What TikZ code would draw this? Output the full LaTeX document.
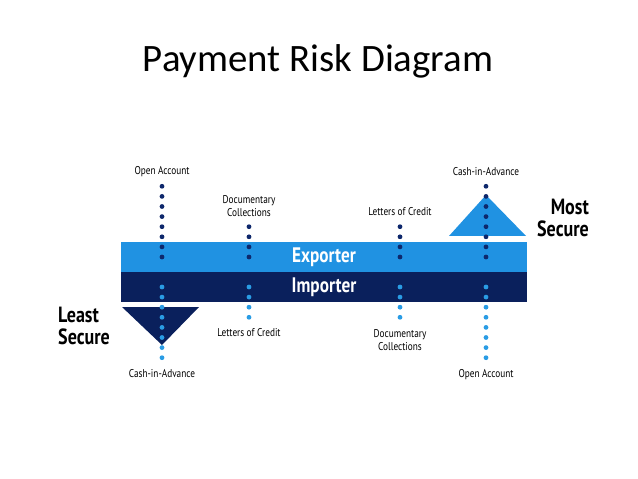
\documentclass[tikz,border=0pt]{standalone}
\usepackage{fontspec}
\setmainfont{Carlito}
\newfontfamily\condfont[FakeStretch=0.82]{PT Sans}
\newfontfamily\condbold[FakeStretch=0.82]{PT Sans Bold}
\definecolor{lightbar}{RGB}{32,146,226}
\definecolor{darkbar}{RGB}{10,32,92}
\definecolor{darkdot}{RGB}{14,40,108}
\definecolor{lightdot}{RGB}{42,156,228}
\begin{document}
\begin{tikzpicture}[x=1bp,y=-1bp,
  lbl/.style={font=\condfont\fontsize{11.3bp}{13bp}\selectfont, align=center, inner sep=0pt},
  big/.style={font=\condbold\fontsize{22bp}{22bp}\selectfont, inner sep=0pt},
  bartext/.style={font=\condbold\fontsize{21bp}{22bp}\selectfont, text=white, inner sep=0pt},
  ddot/.style={fill=darkdot},
  ldot/.style={fill=lightdot}]
\path[use as bounding box] (0,0) rectangle (638,479);
\node[font=\fontsize{38.8bp}{42bp}\selectfont, inner sep=0pt] (title) at (318,61) {Payment Risk Diagram};
% bars
\fill[lightbar] (121,242) rectangle (527,272);
\fill[darkbar] (121,272) rectangle (527,302);
\node[bartext] (exp) at (324,257) {Exporter};
\node[bartext] (imp) at (324,287) {Importer};
% triangles
\fill[lightbar] (449,236) -- (486,195) -- (526,236) -- cycle;
\fill[darkbar] (122,307) -- (199,307) -- (162,345) -- cycle;
% dots
\foreach \x/\n in {162/8,486/8,249/4,400/4}{
  \foreach \i in {1,...,\n}{
    \fill[ddot] (\x,{257-(\i-1)*10.1}) circle (2.4);
    \fill[ldot] (\x,{287+(\i-1)*10.1}) circle (2.4);
  }
}
% labels
\node[lbl] (oa1) at (162,172) {Open Account};
\node[lbl] (dc1) at (249,206) {Documentary\\Collections};
\node[lbl] (lc1) at (400,212) {Letters of Credit};
\node[lbl] (ca1) at (486,172) {Cash-in-Advance};
\node[lbl] (ca2) at (162,374) {Cash-in-Advance};
\node[lbl] (lc2) at (249,333) {Letters of Credit};
\node[lbl] (dc2) at (400,340) {Documentary\\Collections};
\node[lbl] (oa2) at (486,375) {Open Account};
\node[big, align=right, anchor=east] (most) at (589,218) {Most\\Secure};
\node[big, align=left, anchor=west] (least) at (58,326) {Least\\Secure};
\end{tikzpicture}
\end{document}
